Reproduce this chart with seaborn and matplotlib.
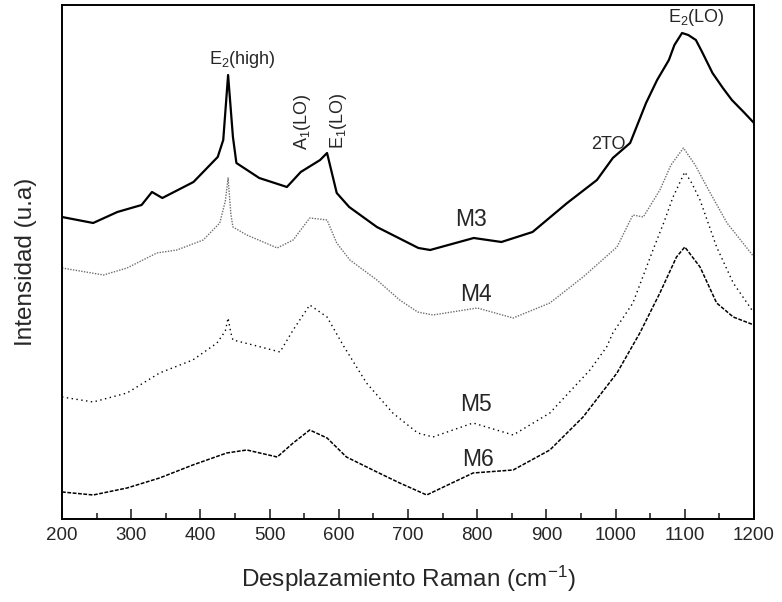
import matplotlib
matplotlib.use('Agg')
import matplotlib.pyplot as plt
import seaborn as sns
import pandas as pd

# Raman spectra (intensity in arbitrary units)
m3_x = [200, 245, 280, 315, 330, 345, 390, 425, 433, 440, 447, 452, 485, 525, 545,
        573, 583, 597, 615, 655, 715, 732, 795, 835, 880, 930, 973, 996, 1021, 1044,
        1060, 1077, 1085, 1096, 1105, 1116, 1125, 1140, 1155, 1168, 1185, 1200]
m3_y = [302, 296, 307, 314, 327, 321, 337, 362, 379, 444, 382, 356, 341, 332, 347,
        359, 366, 326, 312, 292, 271, 269, 281, 277, 287, 316, 339, 361, 376, 416,
        439, 459, 474, 486, 484, 479, 467, 446, 431, 419, 407, 396]

m4_x = [200, 260, 294, 337, 366, 404, 428, 436, 440, 444, 447, 467, 511, 534, 558,
        583, 597, 616, 655, 688, 714, 736, 800, 852, 905, 953, 1002, 1025, 1040, 1064,
        1080, 1098, 1115, 1132, 1161, 1200]
m4_y = [251, 244, 251, 266, 269, 279, 296, 318, 341, 305, 292, 284, 271, 279, 301,
        299, 276, 259, 239, 219, 207, 204, 211, 201, 216, 242, 272, 304, 302, 329,
        354, 371, 354, 332, 296, 262]

m5_x = [200, 245, 294, 341, 389, 424, 436, 440, 444, 447, 476, 515, 534, 558, 583,
        606, 640, 678, 714, 736, 794, 852, 905, 963, 987, 996, 1025, 1054, 1070, 1083,
        1100, 1110, 1122, 1146, 1170, 1200]
m5_y = [122, 117, 126, 146, 159, 176, 188, 201, 186, 179, 174, 167, 189, 214, 202,
        174, 136, 106, 86, 82, 96, 84, 106, 149, 172, 186, 216, 269, 297, 322,
        347, 336, 319, 272, 236, 206]

m6_x = [200, 245, 294, 341, 389, 438, 467, 511, 534, 558, 583, 611, 655, 688, 727,
        794, 852, 905, 953, 1002, 1035, 1064, 1088, 1100, 1122, 1146, 1170, 1200]
m6_y = [27, 24, 31, 41, 54, 66, 69, 62, 76, 89, 81, 62, 47, 36, 24,
        46, 49, 69, 102, 146, 186, 226, 262, 272, 252, 216, 202, 194]

sample_names = ['M3', 'M4', 'M5', 'M6']
name_pos = [(791, 299), (798, 224), (798, 114), (801, 59)]

peak_labels = [r'E$_\mathrm{2}$(high)', r'A$_\mathrm{1}$(LO)', r'E$_\mathrm{1}$(LO)',
               '2TO', r'E$_\mathrm{2}$(LO)']
peak_pos = [(460, 459), (548, 397), (600, 398), (989, 374), (1116, 501)]
peak_rot = [0, 90, 90, 0, 0]

sns.set_style('ticks')
plt.rcParams['font.family'] = ['Liberation Sans', 'DejaVu Sans']
plt.rcParams['mathtext.fontset'] = 'custom'
plt.rcParams['mathtext.rm'] = 'Liberation Sans'
plt.rcParams['mathtext.it'] = 'Liberation Sans:italic'

fig = plt.figure(figsize=(7.82, 6.02), dpi=100)
ax = fig.add_axes([0.0793, 0.1379, 0.8849, 0.8538])

styles = [dict(color='black', lw=1.6, linestyle='-'),
          dict(color='#6e6e6e', lw=1.0, linestyle=(0, (1, 1))),
          dict(color='black', lw=1.0, linestyle=(0, (1, 2.5))),
          dict(color='black', lw=1.1, linestyle=(0, (2.5, 1)))]
series = [(m3_x, m3_y), (m4_x, m4_y), (m5_x, m5_y), (m6_x, m6_y)]

for (xs, ys), st, name in zip(series, styles, sample_names):
    df = pd.DataFrame({'x': xs, 'y': ys})
    sns.lineplot(data=df, x='x', y='y', ax=ax, sort=False, **st)

for name, (tx, ty) in zip(sample_names, name_pos):
    ax.text(tx, ty, name, fontsize=16.5, ha='center', va='center')

for lab, (tx, ty), rot in zip(peak_labels, peak_pos, peak_rot):
    ax.text(tx, ty, lab, fontsize=13, ha='center', va='center', rotation=rot)

ax.set_xlim(200, 1200)
ax.set_ylim(0, 514)
ax.set_xticks(range(200, 1201, 100))
ax.set_xticks(range(250, 1200, 100), minor=True)
ax.set_yticks([])
ax.tick_params(axis='x', which='major', direction='in', length=7, width=1.2,
               labelsize=13.5, pad=6, top=False)
ax.tick_params(axis='x', which='minor', direction='in', length=4, width=1.2, top=False)
for sp in ax.spines.values():
    sp.set_linewidth(1.4)
    sp.set_color('black')

ax.set_xlabel(r'Desplazamiento Raman (cm$^\mathrm{-1}$)', fontsize=17.5, labelpad=14)
ax.set_ylabel('Intensidad (u.a)', fontsize=17.5, labelpad=18)

plt.savefig('out.png', dpi=100)
